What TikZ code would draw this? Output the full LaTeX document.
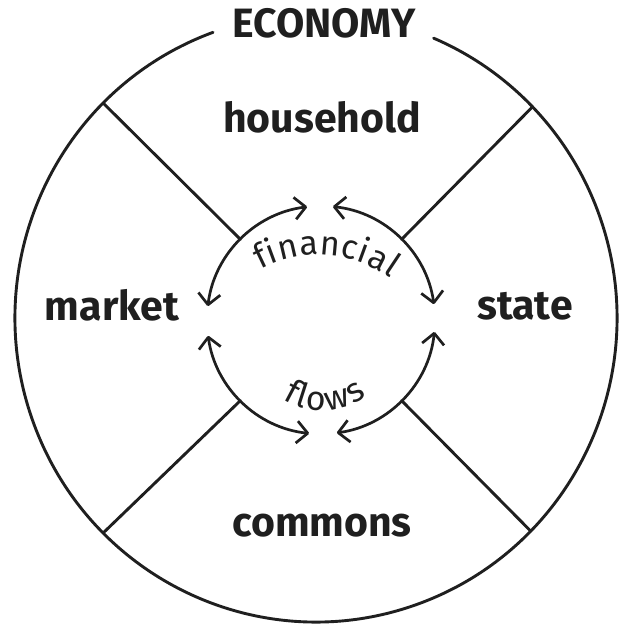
\documentclass[tikz,border=0pt]{standalone}
\usepackage{fontspec}
\setmainfont{Fira Sans}
\usetikzlibrary{arrows.meta,decorations.text,calc}
\tikzset{
  stroke/.style={line width=2.9pt, draw=black!88, line cap=round},
  lbl/.style={font=\fontsize{41pt}{41pt}\selectfont\bfseries, text=black!88, inner sep=0pt, anchor=base},
  flowarc/.style={line width=2.7pt, draw=black!88, line cap=round,
    {Straight Barb[length=11pt,width=22pt,line join=round]}-{Straight Barb[length=11pt,width=22pt,line join=round]}},
}
\begin{document}
\begin{tikzpicture}[x=1pt,y=1pt]
\useasboundingbox (0,0) rectangle (619,624);
% centres
\coordinate (O) at (316,306);
\coordinate (C) at (321,304);
\coordinate (Tf) at (318,246);
\coordinate (Tl) at (322,287);
% outer ring with gap for title
\draw[stroke] ($(O)+(110:301pt and 304pt)$) arc[start angle=110, end angle=427, x radius=301pt, y radius=304pt];
% divider endpoints
\coordinate (oUL) at ($(O)+(135:301pt and 304pt)$);
\coordinate (oUR) at ($(O)+(44:301pt and 304pt)$);
\coordinate (oLL) at ($(O)+(225:301pt and 304pt)$);
\coordinate (oLR) at ($(O)+(315.5:301pt and 304pt)$);
\coordinate (iUL) at ($(C)+(135:114pt)$);
\coordinate (iUR) at ($(C)+(45:114pt)$);
\coordinate (iLL) at ($(C)+(225:114pt)$);
\coordinate (iLR) at ($(C)+(315:114pt)$);
\draw[stroke] (oUL) -- (iUL);
\draw[stroke] (oUR) -- (iUR);
\draw[stroke] (oLL) -- (iLL);
\draw[stroke] (oLR) -- (iLR);
% flow arcs
\coordinate (aTL) at ($(C)+(173:114pt)$);
\coordinate (aTR) at ($(C)+(84:114pt)$);
\coordinate (aBL) at ($(C)+(188:114pt)$);
\coordinate (aBR) at ($(C)+(278:114pt)$);
\draw[flowarc] (aTL) arc[start angle=173, end angle=97, radius=114pt];
\draw[flowarc] (aTR) arc[start angle=84, end angle=8, radius=114pt];
\draw[flowarc] (aBL) arc[start angle=188, end angle=264, radius=114pt];
\draw[flowarc] (aBR) arc[start angle=278, end angle=354, radius=114pt];
% labels
\node[lbl] (economy) at (324,586) {ECONOMY};
\node[lbl] (household) at (322,491) {household};
\node[lbl] (market) at (112,303) {market};
\node[lbl] (state) at (525,304) {state};
\node[lbl] (commons) at (322,87) {commons};
% curved texts
\path[decorate, decoration={text along path, text align=fit to path,
  text={|\fontsize{34pt}{34pt}\selectfont\color{black!88}|financial}}]
  ($(Tf)+(118:123pt)$) arc[start angle=118, end angle=54, radius=123pt];
\path[decorate, decoration={text along path, text align=fit to path,
  text={|\fontsize{34pt}{34pt}\selectfont\color{black!88}|flows}}]
  ($(Tl)+(238:74pt)$) arc[start angle=238, end angle=307, radius=74pt];
\end{tikzpicture}
\end{document}
